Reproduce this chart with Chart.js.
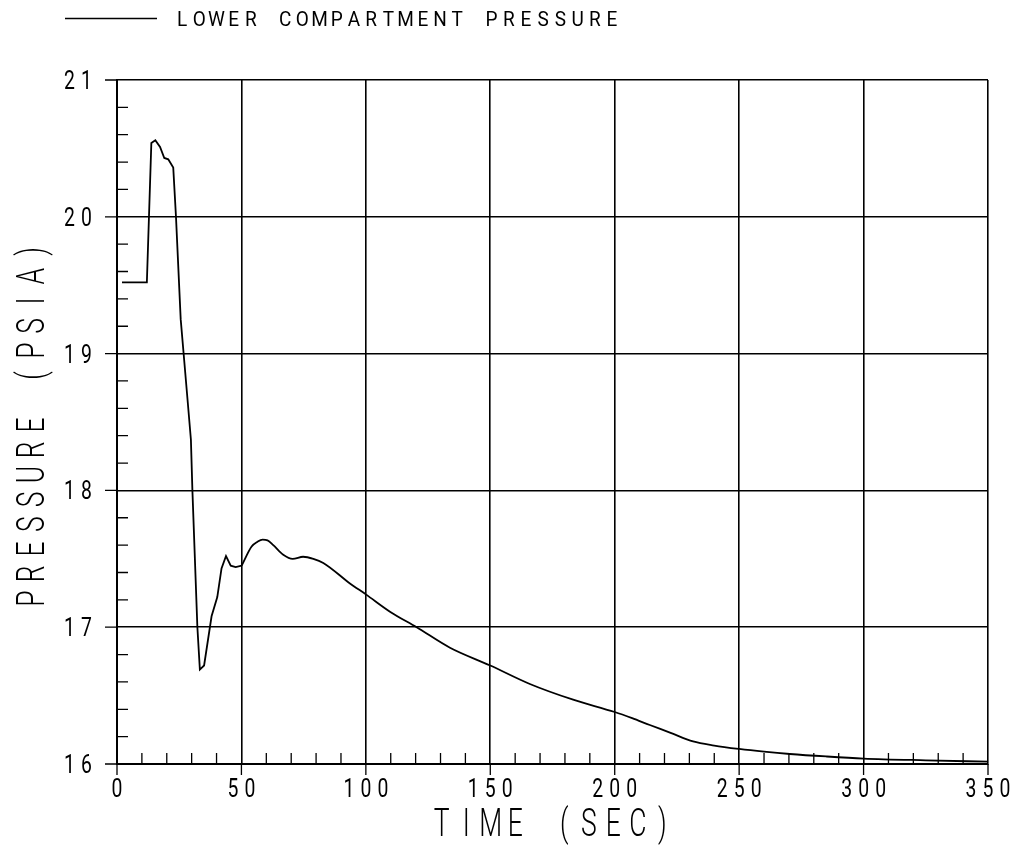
<!doctype html>
<html>
	<head>
		<meta charset="utf-8" />
		<title>Lower compartment pressure</title>
		<script src="https://cdn.jsdelivr.net/npm/chart.js@4.4.1/dist/chart.umd.min.js"></script>
		<style>
			html,
			body {
				margin: 0;
				padding: 0;
				background: #fff;
			}
			#wrap {
				width: 1017px;
				height: 848px;
			}
		</style>
	</head>
	<body>
		<div id="wrap"><canvas id="chartJSContainer"></canvas></div>

		<script>
			// values
			const seriesName = "LOWER COMPARTMENT PRESSURE";
			const timeSec = [
				2, 12, 13.8, 15.4, 17.3, 19, 20.6, 22.6, 23.7, 25.6, 28.5, 29.7, 30.3,
				32.3, 33.3, 35, 38, 40.3, 42, 43.8, 45.7, 47.7, 50.1, 54.1, 56.5, 58.5,
				60.5, 62.8, 66.8, 70.6, 74.8, 78.9, 82.9, 93.6, 100, 110, 120.4, 133.8,
				150, 165.9, 183.3, 200, 207, 214.1, 222.2, 231.5, 240, 250, 260, 270.4,
				285, 300, 325, 350,
			];
			const pressurePsia = [
				19.52, 19.52, 20.54, 20.56, 20.51, 20.43, 20.42, 20.36, 20.0, 19.25,
				18.63, 18.37, 18.0, 17.0, 16.69, 16.72, 17.08, 17.22, 17.43, 17.52,
				17.45, 17.44, 17.45, 17.59, 17.625, 17.64, 17.635, 17.6, 17.53, 17.5,
				17.515, 17.5, 17.47, 17.32, 17.24, 17.11, 17.0, 16.85, 16.72, 16.585,
				16.47, 16.38, 16.335, 16.285, 16.23, 16.165, 16.135, 16.11, 16.09,
				16.073, 16.055, 16.04, 16.027, 16.017,
			];
			const xTickLabels = [0, 50, 100, 150, 200, 250, 300, 350];
			const yTickLabels = [16, 17, 18, 19, 20, 21];
			const xTitle = "TIME (SEC)";
			const yTitle = "PRESSURE (PSIA)";

			// the blowdown transient is drawn straight, the slow decay is smoothed
			const smoothFrom = 50;

			const FONT = "Roboto, 'Liberation Sans', sans-serif";

			const points = timeSec.map((t, i) => ({ x: t, y: pressurePsia[i] }));
			const splitAt = timeSec.findIndex((t) => t >= smoothFrom);

			// draws text one glyph at a time with a fixed pitch and horizontal squeeze
			function spacedText(ctx, text, cx, baseline, size, pitch, squeeze, weight) {
				const span = (text.length - 1) * pitch;
				ctx.save();
				ctx.font = (weight || 300) + " " + size + "px " + FONT;
				ctx.fillStyle = "#000";
				ctx.textAlign = "center";
				ctx.textBaseline = "alphabetic";
				for (let i = 0; i < text.length; i++) {
					const ch = text[i];
					if (ch === " ") continue;
					ctx.save();
					ctx.translate(cx - span / 2 + i * pitch, baseline);
					ctx.scale(squeeze, 1);
					ctx.fillText(ch, 0, 0);
					ctx.restore();
				}
				ctx.restore();
			}

			const decorations = {
				id: "decorations",
				afterDraw(chart) {
					const ctx = chart.ctx;
					const xs = chart.scales.x;
					const ys = chart.scales.y;
					const area = chart.chartArea;

					ctx.save();
					ctx.strokeStyle = "#000";
					ctx.lineWidth = 1.3;
					ctx.beginPath();
					// minor ticks, pointing inwards
					for (let v = 10; v < 350; v += 10) {
						if (v % 50 === 0) continue;
						const px = xs.getPixelForValue(v);
						ctx.moveTo(px, area.bottom);
						ctx.lineTo(px, area.bottom - 11);
					}
					for (let k = 1; k < 25; k++) {
						if (k % 5 === 0) continue;
						const py = ys.getPixelForValue(16 + k * 0.2);
						ctx.moveTo(area.left, py);
						ctx.lineTo(area.left + 11, py);
					}
					// major ticks, pointing outwards
					xTickLabels.forEach((v) => {
						const px = xs.getPixelForValue(v);
						ctx.moveTo(px, area.bottom);
						ctx.lineTo(px, area.bottom + 11);
					});
					yTickLabels.forEach((v) => {
						const py = ys.getPixelForValue(v);
						ctx.moveTo(area.left, py);
						ctx.lineTo(area.left - 12, py);
					});
					// legend sample line
					ctx.moveTo(65, 18.5);
					ctx.lineTo(157, 18.5);
					ctx.stroke();
					ctx.restore();

					xTickLabels.forEach((v) => {
						spacedText(ctx, String(v), xs.getPixelForValue(v), 797, 25.5, 17, 0.76, 400);
					});
					yTickLabels.forEach((v) => {
						spacedText(ctx, String(v), 78, ys.getPixelForValue(v) + 9, 25.5, 17, 0.76, 400);
					});

					spacedText(ctx, xTitle, 552, 836, 39, 24.5, 0.68);

					ctx.save();
					ctx.translate(44, 425);
					ctx.rotate(-Math.PI / 2);
					spacedText(ctx, yTitle, 0, 0, 39, 24.8, 0.68);
					ctx.restore();

					const first = 178 + 4;
					spacedText(
						ctx,
						seriesName,
						first + ((seriesName.length - 1) * 17.2) / 2,
						26,
						20,
						17.2,
						0.95,
						400,
					);
				},
			};

			const gridStyle = {
				color: "#000",
				lineWidth: 1.6,
				drawTicks: false,
			};

			const lineStyle = {
				borderColor: "#000",
				borderWidth: 1.8,
				pointRadius: 0,
				fill: false,
			};

			new Chart(document.getElementById("chartJSContainer"), {
				type: "line",
				data: {
					datasets: [
						{
							...lineStyle,
							label: seriesName,
							data: points.slice(0, splitAt + 1),
							tension: 0,
						},
						{
							...lineStyle,
							label: seriesName,
							data: points.slice(splitAt),
							cubicInterpolationMode: "monotone",
						},
					],
				},
				options: {
					responsive: true,
					maintainAspectRatio: false,
					animation: false,
					events: [],
					layout: { padding: { left: 117, right: 29, top: 80, bottom: 84 } },
					plugins: {
						legend: { display: false },
						tooltip: { enabled: false },
					},
					scales: {
						x: {
							type: "linear",
							min: 0,
							max: 350,
							ticks: { stepSize: 50, display: false },
							grid: gridStyle,
							border: { color: "#000", width: 2 },
						},
						y: {
							type: "linear",
							min: 16,
							max: 21,
							ticks: { stepSize: 1, display: false },
							grid: gridStyle,
							border: { color: "#000", width: 2 },
						},
					},
				},
				plugins: [decorations],
			});
		</script>
	</body>
</html>
